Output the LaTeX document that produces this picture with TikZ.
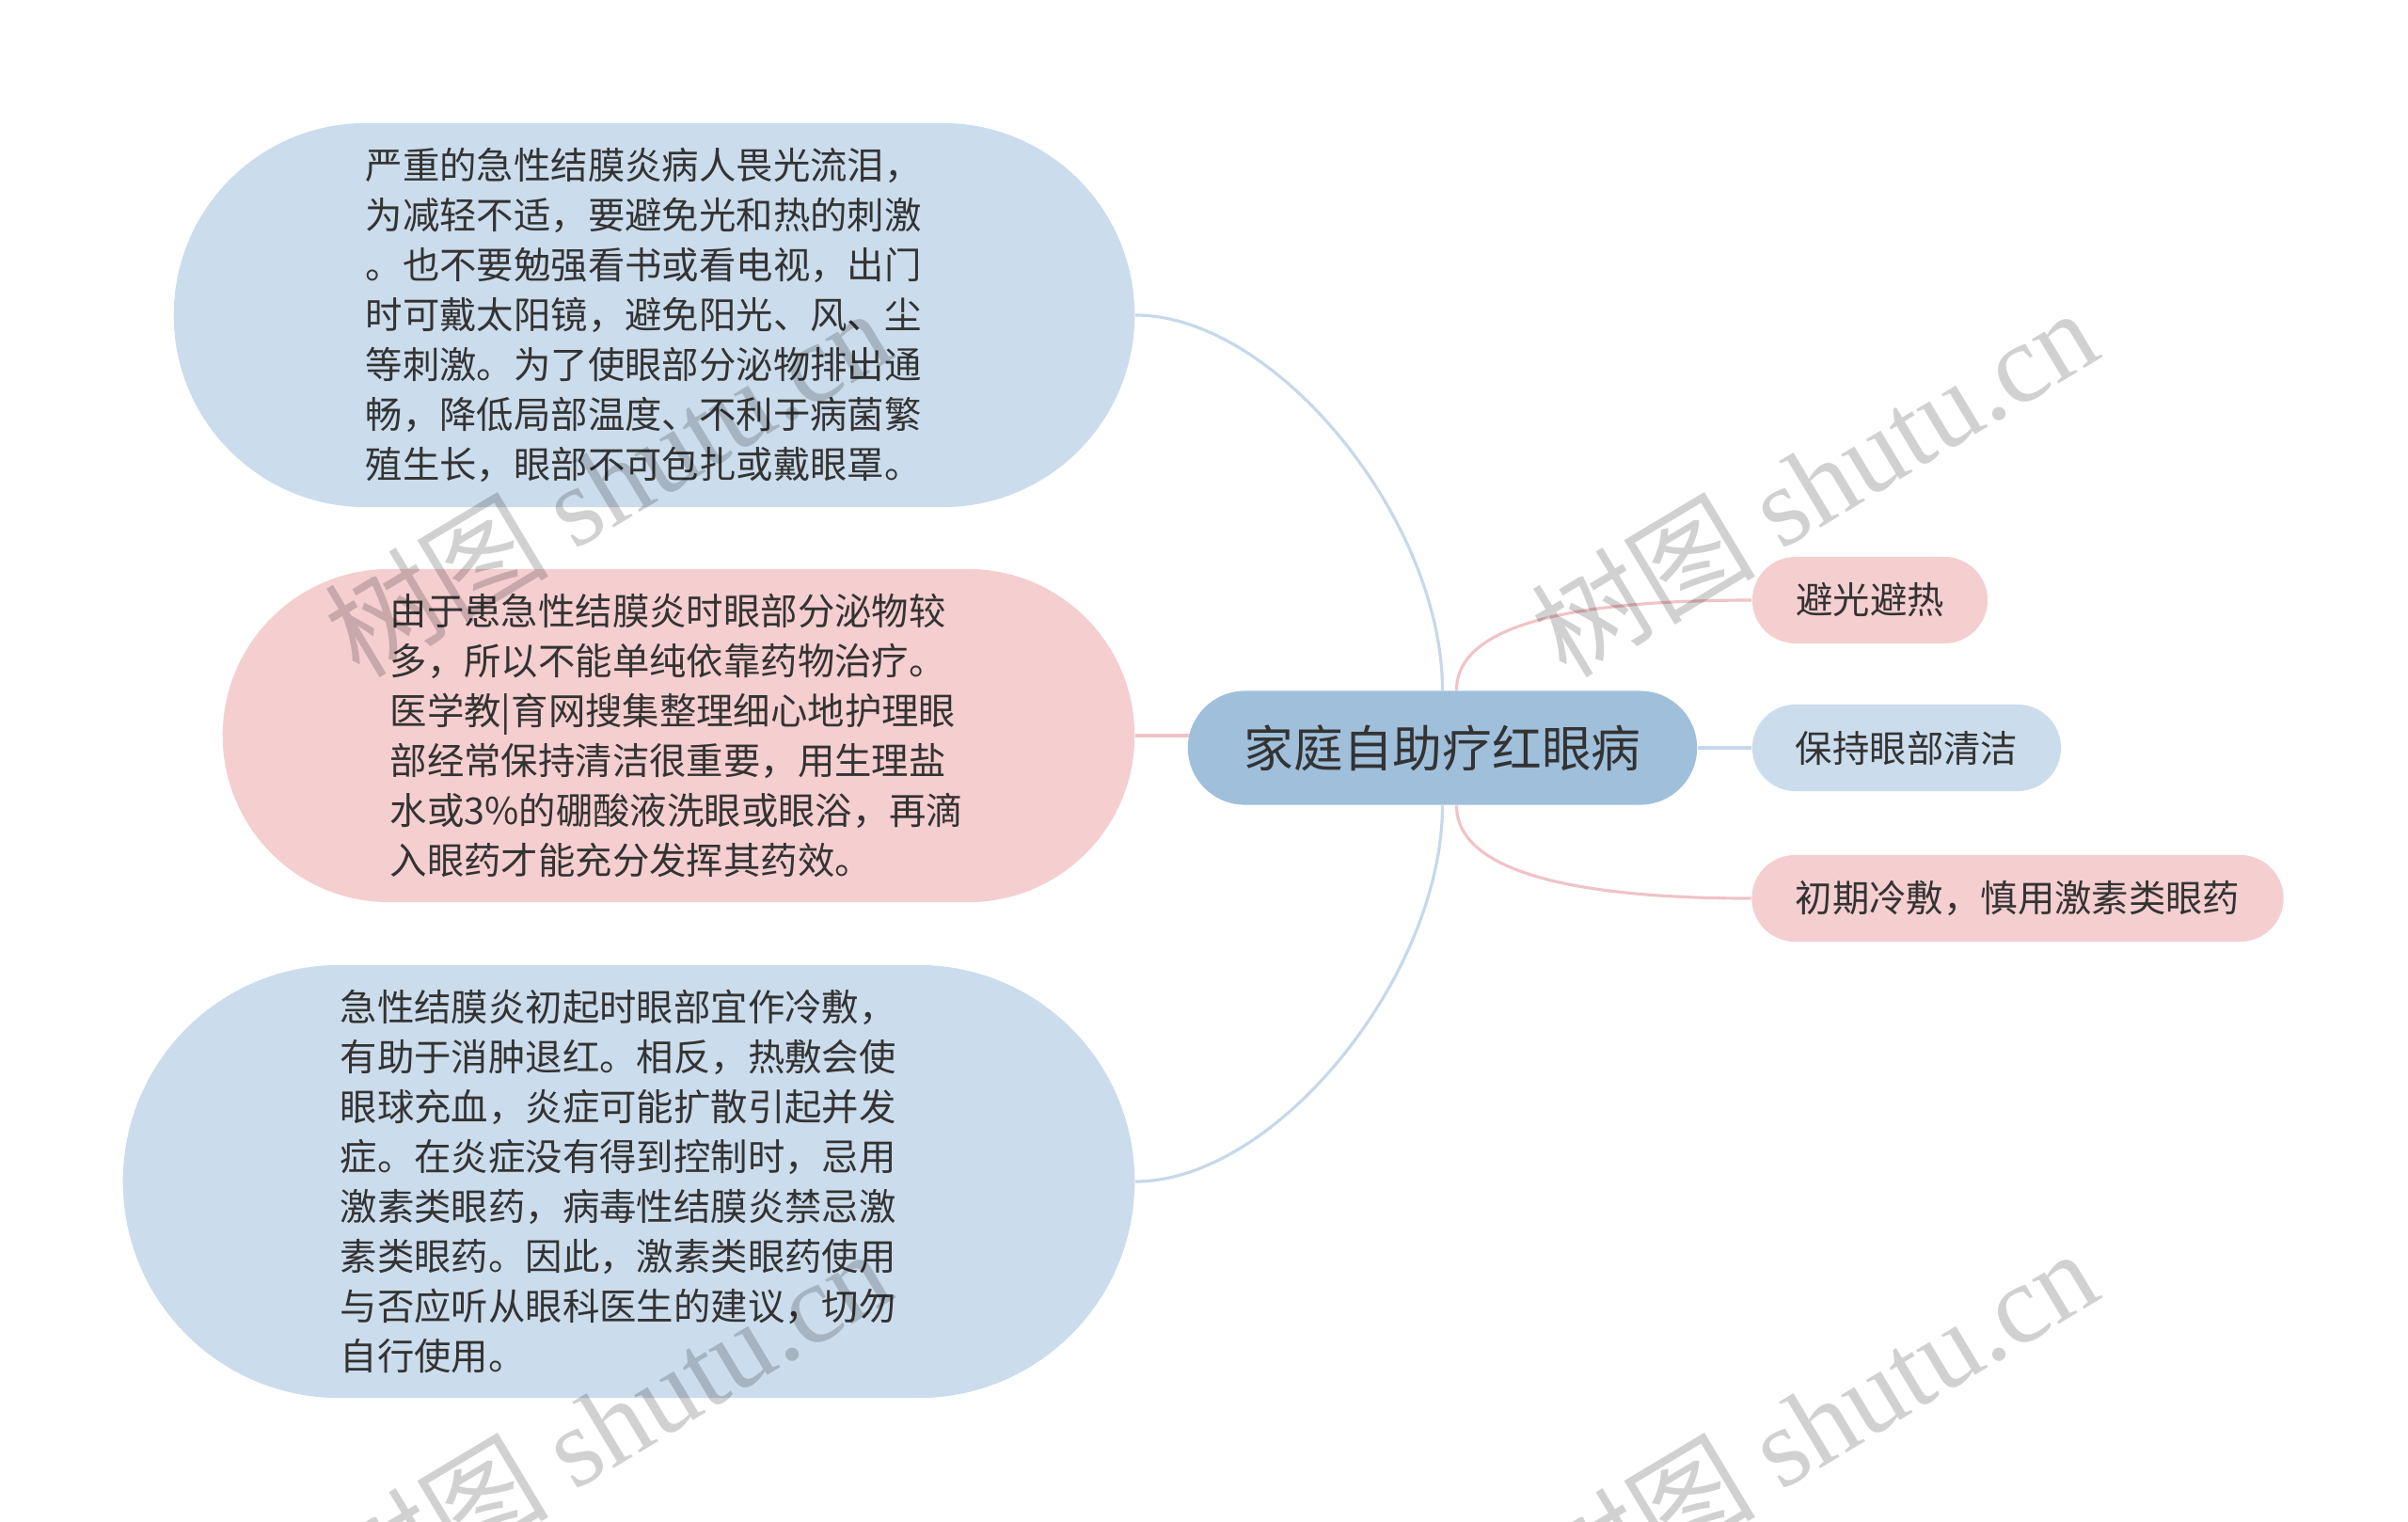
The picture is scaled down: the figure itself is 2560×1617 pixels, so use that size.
\documentclass[tikz,border=0pt]{standalone}
\usepackage{fontspec}
\usepackage{xcolor}
\usepackage{tikz}
\usetikzlibrary{shapes.misc,calc,backgrounds}
\newfontfamily\cjkfont{Noto Sans CJK SC}
\newfontfamily\markfont{Liberation Serif}
\definecolor{bubbleblue}{HTML}{CBDCEC}
\definecolor{bubblepink}{HTML}{F5CED0}
\definecolor{rootblue}{HTML}{A0BFDB}
\definecolor{lineblue}{HTML}{C6D8EA}
\definecolor{linepink}{HTML}{F0C3C6}
\definecolor{textgrey}{HTML}{333333}
\tikzset{
  topic/.style={shape=rounded rectangle, inner xsep=0pt, inner ysep=0pt, text=textgrey,
    font=\cjkfont\fontsize{11.2}{15.05}\selectfont},
  note/.style={topic, align=left, text width=6.13cm},
  leaf/.style={topic, minimum height=0.92cm},
  link/.style={line width=0.9pt},
  wmark/.style={text=black, text opacity=0.18, rotate=31, inner sep=0pt,
    font=\cjkfont\fontsize{34}{34}\selectfont}
}
\begin{document}
\begin{tikzpicture}[x=0.01cm,y=-0.01cm]
\useasboundingbox (0,0) rectangle (2560,1617);
\node[note, fill=bubbleblue, minimum width=10.21cm, minimum height=4.08cm] (shade) at (695.5,335)
  {严重的急性结膜炎病人畏光流泪，\\为减轻不适，要避免光和热的刺激\\。也不要勉强看书或看电视，出门\\时可戴太阳镜，避免阳光、风、尘\\等刺激。为了使眼部分泌物排出通\\畅，降低局部温度、不利于病菌繁\\殖生长，眼部不可包扎或戴眼罩。};
\node[note, fill=bubblepink, minimum width=9.69cm, minimum height=3.54cm] (wash) at (721.5,782)
  {由于患急性结膜炎时眼部分泌物较\\多，所以不能单纯依靠药物治疗。\\医学教|育网搜集整理细心地护理眼\\部经常保持清洁很重要，用生理盐\\水或3\%的硼酸液洗眼或眼浴，再滴\\入眼药才能充分发挥其药效。};
\node[note, fill=bubbleblue, minimum width=10.75cm, minimum height=4.6cm] (compress) at (668.5,1256)
  {急性结膜炎初起时眼部宜作冷敷，\\有助于消肿退红。相反，热敷会使\\眼球充血，炎症可能扩散引起并发\\症。在炎症没有得到控制时，忌用\\激素类眼药，病毒性结膜炎禁忌激\\素类眼药。因此，激素类眼药使用\\与否应听从眼科医生的建议，切勿\\自行使用。};
\node[topic, fill=rootblue, minimum width=5.41cm, minimum height=1.21cm,
  font=\cjkfont\fontsize{15}{18}\selectfont] (home) at (1533.5,795) {家庭自助疗红眼病};
\node[leaf, fill=bubblepink, minimum width=2.5cm] (avoid) at (1988,638) {避光避热};
\node[leaf, fill=bubbleblue, minimum width=3.28cm] (clean) at (2027,795) {保持眼部清洁};
\node[leaf, fill=bubblepink, minimum width=5.65cm] (cold) at (2145,955) {初期冷敷，慎用激素类眼药};

\begin{scope}[on background layer]
  \draw[link, lineblue] (shade.east) .. controls +(150,0) and +(0,-180) .. (home.north);
  \draw[link, linepink] (wash.east) -- ($(wash.east -| home.west)+(20,0)$);
  \draw[link, lineblue] (compress.east) .. controls +(150,0) and +(0,180) .. (home.south);
  \draw[link, linepink] ($(home.north)+(15,0)$) .. controls +(0,-70) and +(-190,0) .. (avoid.west);
  \draw[link, lineblue] (home.east) -- (clean.west);
  \draw[link, linepink] ($(home.south)+(15,0)$) .. controls +(0,70) and +(-190,0) .. (cold.west);
\end{scope}

\foreach \wx/\wy [count=\i] in {645/512, 1928/512, 645/1512, 1928/1512}
  \node[wmark] (stamp\i) at (\wx,\wy) {树图 {\markfont shutu.cn}};
\end{tikzpicture}
\end{document}
